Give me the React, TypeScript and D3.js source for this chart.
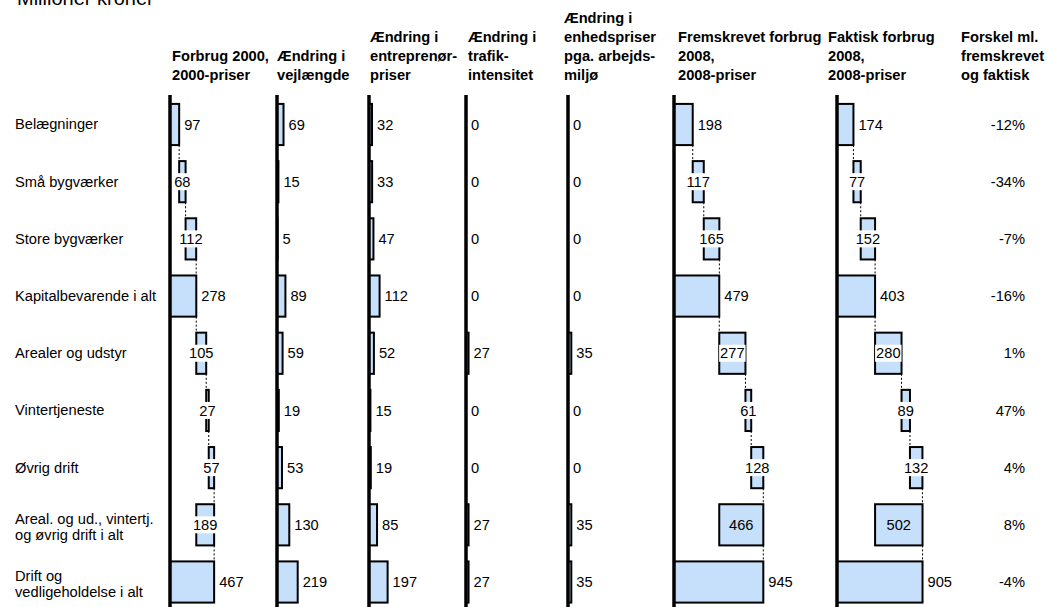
import * as d3 from "d3";

// rows, top to bottom (multi-line labels as arrays of lines)
const rowLabels = [
  ["Belægninger"],
  ["Små bygværker"],
  ["Store bygværker"],
  ["Kapitalbevarende i alt"],
  ["Arealer og udstyr"],
  ["Vintertjeneste"],
  ["Øvrig drift"],
  ["Areal. og ud., vintertj.", "og øvrig drift i alt"],
  ["Drift og", "vedligeholdelse i alt"],
];
// how each row sits in the waterfall columns
const rowKinds = ["step", "step", "step", "total", "step", "step", "step", "sub", "total"];

const forbrug2000 = [97, 68, 112, 278, 105, 27, 57, 189, 467];
const vejlaengde = [69, 15, 5, 89, 59, 19, 53, 130, 219];
const entreprenoer = [32, 33, 47, 112, 52, 15, 19, 85, 197];
const trafik = [0, 0, 0, 0, 27, 0, 0, 27, 27];
const arbejdsmiljoe = [0, 0, 0, 0, 35, 0, 0, 35, 35];
const fremskrevet = [198, 117, 165, 479, 277, 61, 128, 466, 945];
const faktisk = [174, 77, 152, 403, 280, 89, 132, 502, 905];
const forskel = ["-12%", "-34%", "-7%", "-16%", "1%", "47%", "4%", "8%", "-4%"];

const headers = [
  ["Forbrug 2000,", "2000-priser"],
  ["Ændring i", "vejlængde"],
  ["Ændring i", "entreprenør-", "priser"],
  ["Ændring i", "trafik-", "intensitet"],
  ["Ændring i", "enhedspriser", "pga. arbejds-", "miljø"],
  ["Fremskrevet forbrug", "2008,", "2008-priser"],
  ["Faktisk forbrug", "2008,", "2008-priser"],
  ["Forskel ml.", "fremskrevet", "og faktisk"],
];

const series = [
  { values: forbrug2000, waterfall: true },
  { values: vejlaengde, waterfall: false },
  { values: entreprenoer, waterfall: false },
  { values: trafik, waterfall: false },
  { values: arbejdsmiljoe, waterfall: false },
  { values: fremskrevet, waterfall: true },
  { values: faktisk, waterfall: true },
];

// layout
const colX = [170, 277, 369, 466, 568, 674, 837];
const headerX = [172, 277, 370, 468, 564, 678, 828, 961];
const pctX = 1025;

const segments = (values: number[], waterfall: boolean) => {
  let running = 0;
  let lastTotal = 0;
  return values.map((v, i) => {
    if (!waterfall) return { start: 0, end: v };
    const kind = rowKinds[i];
    if (kind === "total") {
      running = v;
      lastTotal = v;
      return { start: 0, end: v };
    }
    if (kind === "sub") {
      const s = lastTotal;
      running = s + v;
      return { start: s, end: s + v };
    }
    const s = running;
    running = s + v;
    return { start: s, end: s + v };
  });
};

const App = () => {
  const width = 1047;
  const height = 607;
  const font = "'Liberation Sans', Arial, Helvetica, sans-serif";
  const fs = 14.67;
  const fill = "#c6dffa";

  const yScale = d3
    .scaleBand<number>()
    .domain(d3.range(rowLabels.length))
    .range([95.9, 610.6])
    .paddingInner(0.28)
    .paddingOuter(0.14);
  const xScale = d3.scaleLinear().domain([0, 1000]).range([0, 94.5]);
  const bw = yScale.bandwidth();
  const mid = (i: number) => yScale(i)! + bw / 2;
  const textW = (s: string) => s.length * 0.556 * fs;

  return (
    <svg
      width={width}
      height={height}
      style={{ position: "absolute", left: 0, top: 0, fontFamily: font }}
    >
      <rect width={width} height={height} fill="#fff" />
      <text x={17} y={5} fontSize={20}>
        Millioner kroner
      </text>

      {headers.map((lines, c) => (
        <text key={c} x={headerX[c]} fontSize={fs} fontWeight="bold">
          {lines.map((l, j) => (
            <tspan key={j} x={headerX[c]} y={79.5 - (lines.length - 1 - j) * 19}>
              {l}
            </tspan>
          ))}
        </text>
      ))}

      {rowLabels.map((lines, i) => (
        <text key={i} fontSize={fs}>
          {lines.map((l, j) => (
            <tspan
              key={j}
              x={15}
              y={lines.length === 1 ? mid(i) + 5 : mid(i) - 1.25 + j * 16.5}
            >
              {l}
            </tspan>
          ))}
        </text>
      ))}

      {series.map((s, c) => {
        const x0 = colX[c];
        const segs = segments(s.values, s.waterfall);
        return (
          <g key={c}>
            {s.waterfall &&
              segs.slice(0, -1).map((d, i) => (
                <line
                  key={"c" + i}
                  x1={x0 + xScale(d.end)}
                  x2={x0 + xScale(d.end)}
                  y1={yScale(i)! + bw}
                  y2={yScale(i + 1)!}
                  stroke="#000"
                  strokeWidth={1}
                  strokeDasharray="2,2"
                />
              ))}
            {segs.map((d, i) =>
              d.end - d.start > 0 ? (
                <rect
                  key={"b" + i}
                  x={x0 + xScale(d.start)}
                  y={yScale(i)}
                  width={xScale(d.end) - xScale(d.start)}
                  height={bw}
                  fill={fill}
                  stroke="#000"
                  strokeWidth={2}
                />
              ) : null
            )}
            <line
              x1={x0}
              x2={x0}
              y1={95}
              y2={611}
              stroke="#000"
              strokeWidth={3.5}
            />
            {segs.map((d, i) => {
              const label = String(s.values[i]);
              if (d.start === 0) {
                return (
                  <text key={"t" + i} x={x0 + xScale(d.end) + 5} y={mid(i)} dy="0.35em" fontSize={fs}>
                    {label}
                  </text>
                );
              }
              const cx = x0 + (xScale(d.start) + xScale(d.end)) / 2;
              const tw = textW(label);
              const barW = xScale(d.end) - xScale(d.start);
              return (
                <g key={"t" + i}>
                  {barW < tw + 6 && (
                    <rect x={cx - tw / 2 - 1} y={mid(i) - 8.5} width={tw + 2} height={17} fill="#fff" />
                  )}
                  <text x={cx} y={mid(i)} dy="0.35em" fontSize={fs} textAnchor="middle">
                    {label}
                  </text>
                </g>
              );
            })}
          </g>
        );
      })}

      {forskel.map((p, i) => (
        <text key={i} x={pctX} y={mid(i)} dy="0.35em" fontSize={fs} textAnchor="end">
          {p}
        </text>
      ))}
    </svg>
  );
};

export default App;
